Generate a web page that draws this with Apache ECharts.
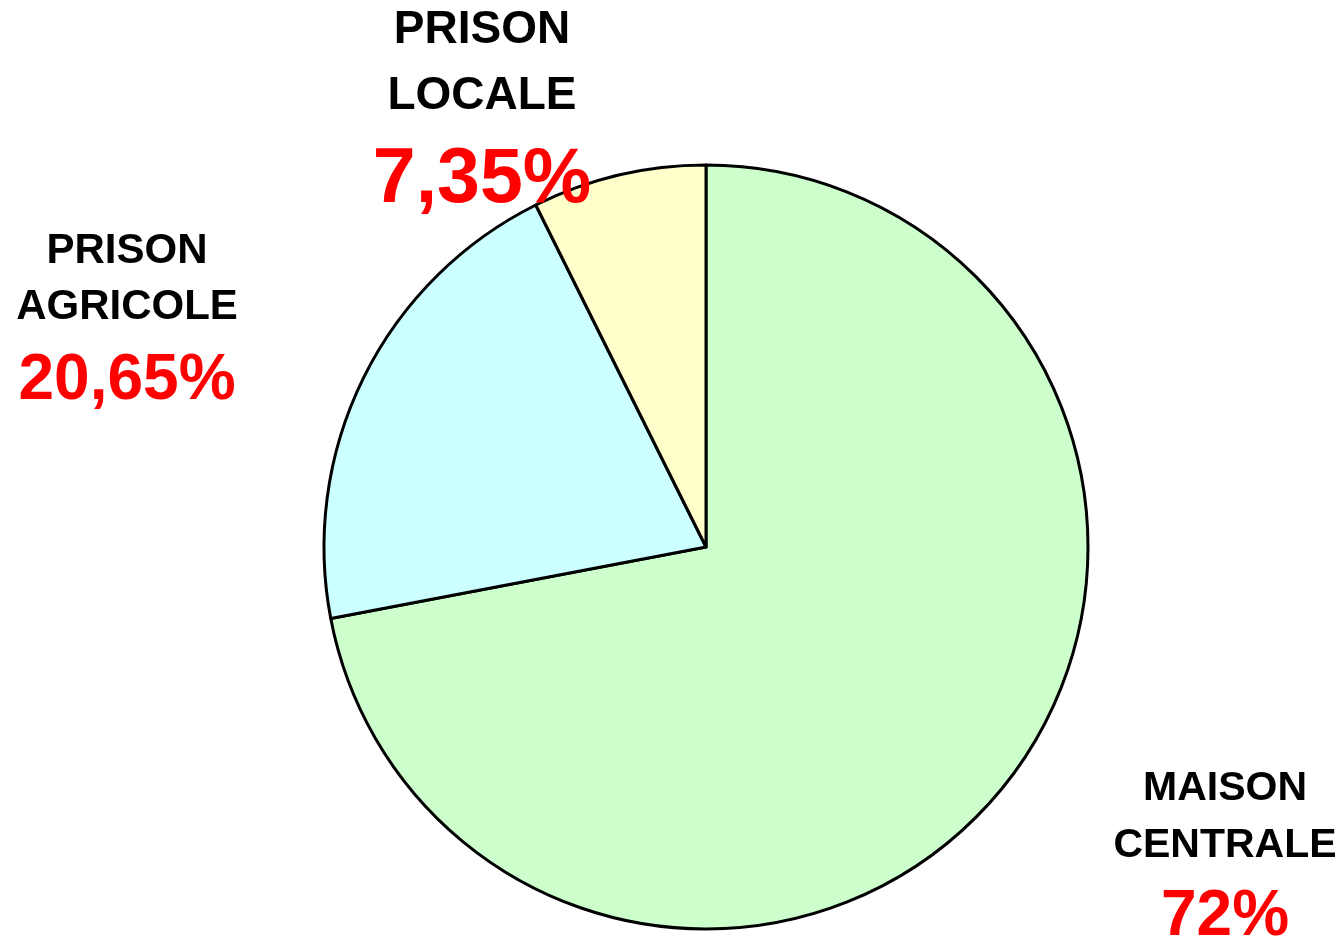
<!DOCTYPE html>
<html>
<head>
<meta charset="utf-8">
<script src="https://cdn.jsdelivr.net/npm/echarts@6/dist/echarts.min.js"></script>
<style>
  html, body { margin: 0; padding: 0; background: #fff; }
  #chart { width: 1344px; height: 944px; }
</style>
</head>
<body>
<div id="chart"></div>
<script>
// data
var names = ['MAISON\nCENTRALE', 'PRISON\nAGRICOLE', 'PRISON\nLOCALE'];
var values = [72, 20.65, 7.35];
var pctLabels = ['72%', '20,65%', '7,35%'];
var colors = ['#CCFFCC', '#CCFFFF', '#FFFFCC'];

// label placement: [x center, y top, name size, name line height, pct size, pct line height]
var labelPos = [
    [1225, 760, 41, 57, 64, 87],
    [127, 223, 42, 56, 64, 92],
    [482, -3, 46, 66, 77, 104]
];

var data = [];
values.forEach(function (v, i) {
    var lines = names[i].split('\n');
    var p = labelPos[i];
    data.push({
        name: names[i],
        value: v,
        itemStyle: { color: colors[i] },
        label: {
            formatter: lines.map(function (l) { return '{n|' + l + '}'; }).join('\n') + '\n{p|' + pctLabels[i] + '}',
            rich: {
                n: { fontSize: p[2], lineHeight: p[3], fontWeight: 'bold', color: '#000', fontFamily: 'Arial, "Liberation Sans", sans-serif', align: 'center' },
                p: { fontSize: p[4], lineHeight: p[5], fontWeight: 'bold', color: '#FF0000', fontFamily: 'Arial, "Liberation Sans", sans-serif', align: 'center' }
            }
        }
    });
});

var myChart = echarts.init(document.getElementById('chart'));
myChart.setOption({
    animation: false,
    series: [{
        type: 'pie',
        center: [706, 547],
        radius: 382,
        startAngle: 90,
        clockwise: true,
        avoidLabelOverlap: false,
        itemStyle: { borderColor: '#000', borderWidth: 3 },
        label: { show: true, position: 'outside' },
        labelLine: { show: false },
        emphasis: { disabled: true },
        labelLayout: function (params) {
            var p = labelPos[params.dataIndex];
            return { x: p[0], y: p[1], align: 'center', verticalAlign: 'top' };
        },
        data: data
    }]
});
</script>
</body>
</html>
